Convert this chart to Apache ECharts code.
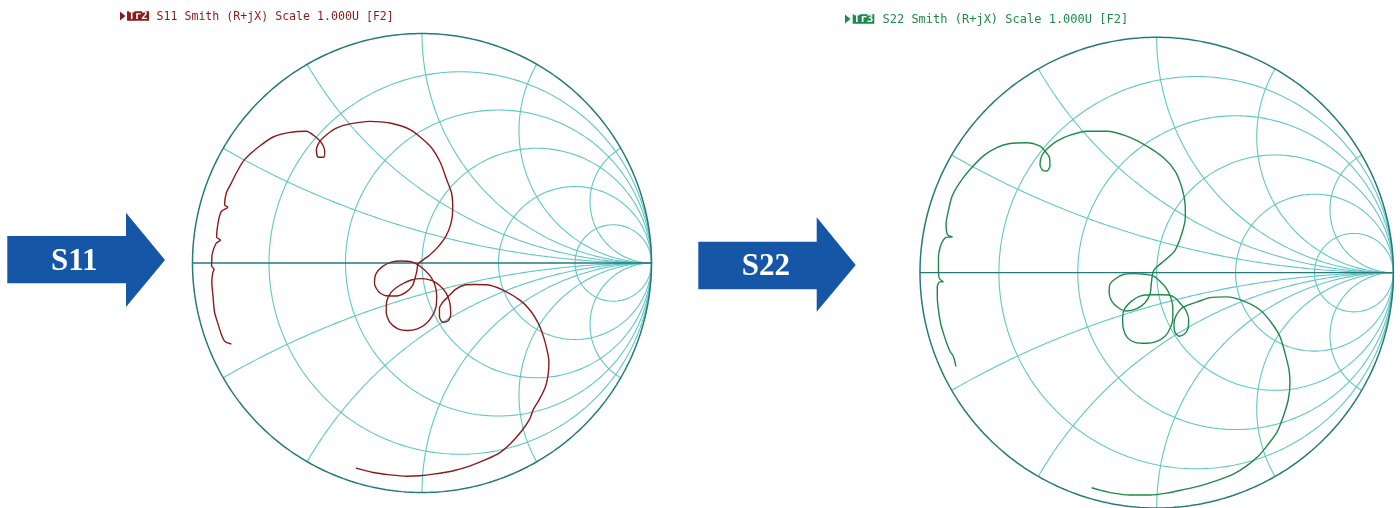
<!DOCTYPE html>
<html><head><meta charset="utf-8">
<script src="https://cdn.jsdelivr.net/npm/echarts@6/dist/echarts.min.js"></script>
<style>html,body{margin:0;padding:0;background:#fff}#c{width:1400px;height:508px}</style>
</head><body><div id="c"></div>
<script>
// Smith chart grid values
const resistanceValues = [0.2, 0.5, 1, 2, 5];
const reactanceValues = [0.268, 0.577, 1, 1.732, 3.732];

// Titles
const s11Title = 'S11 Smith (R+jX) Scale 1.000U [F2]';
const s22Title = 'S22 Smith (R+jX) Scale 1.000U [F2]';
const s11Tag = 'Tr2';
const s22Tag = 'Tr3';
const arrowLabels = ['S11', 'S22'];

// Reflection coefficient traces [real, imag]
const s11Points = [
[-0.831,-0.353],[-0.850,-0.347],[-0.862,-0.338],[-0.875,-0.309],[-0.889,-0.265],[-0.904,-0.214],
[-0.911,-0.141],[-0.916,-0.083],[-0.911,-0.040],[-0.906,-0.028],[-0.917,-0.012],[-0.916,0.010],
[-0.914,0.040],[-0.897,0.086],[-0.878,0.100],[-0.895,0.112],[-0.889,0.173],[-0.875,0.224],
[-0.846,0.243],[-0.860,0.253],[-0.853,0.304],[-0.831,0.348],[-0.809,0.392],[-0.780,0.442],
[-0.744,0.479],[-0.700,0.515],[-0.649,0.549],[-0.576,0.569],[-0.504,0.574],[-0.467,0.552],
[-0.438,0.523],[-0.424,0.486],[-0.428,0.461],[-0.453,0.461],[-0.460,0.493],[-0.445,0.530],
[-0.416,0.559],[-0.373,0.588],[-0.314,0.606],[-0.227,0.617],[-0.140,0.610],[-0.052,0.581],
[0.035,0.510],[0.079,0.440],[0.108,0.362],[0.129,0.304],[0.134,0.240],[0.127,0.175],
[0.103,0.115],[0.066,0.066],[0.030,0.032],[0.008,0.016],[-0.017,-0.004],
[-0.023,-0.038],[-0.032,-0.071],[-0.042,-0.100],[-0.071,-0.128],[-0.112,-0.144],[-0.156,-0.143],
[-0.189,-0.125],[-0.207,-0.089],[-0.201,-0.048],[-0.173,-0.016],[-0.134,0.004],[-0.090,0.009],
[-0.047,0.006],[-0.015,-0.009],[0.009,-0.028],[0.036,-0.057],[0.055,-0.092],[0.064,-0.140],
[0.061,-0.191],[0.045,-0.230],[0.016,-0.266],[-0.020,-0.287],[-0.064,-0.294],[-0.105,-0.287],
[-0.140,-0.259],[-0.156,-0.215],[-0.153,-0.164],[-0.134,-0.127],[-0.098,-0.098],[-0.047,-0.074],
[0.000,-0.068],[0.044,-0.077],[0.077,-0.098],[0.106,-0.132],[0.121,-0.173],[0.125,-0.223],
[0.114,-0.252],[0.090,-0.258],[0.076,-0.234],[0.076,-0.198],[0.092,-0.169],[0.114,-0.147],
[0.146,-0.115],[0.186,-0.096],[0.230,-0.094],[0.282,-0.095],[0.355,-0.119],[0.428,-0.163],
[0.472,-0.207],[0.508,-0.265],[0.530,-0.323],[0.547,-0.389],[0.553,-0.432],[0.549,-0.491],
[0.537,-0.541],[0.512,-0.593],[0.486,-0.636],[0.469,-0.680],[0.435,-0.731],[0.384,-0.789],
[0.341,-0.825],[0.282,-0.855],[0.210,-0.884],[0.137,-0.905],[0.049,-0.920],[-0.009,-0.927],
[-0.067,-0.929],[-0.140,-0.923],[-0.213,-0.913],[-0.288,-0.894]
];

const s22Points = [
[-0.848,-0.398],[-0.859,-0.356],[-0.873,-0.335],[-0.887,-0.300],[-0.901,-0.258],[-0.913,-0.215],
[-0.922,-0.159],[-0.927,-0.103],[-0.927,-0.061],[-0.918,-0.039],[-0.901,-0.039],[-0.918,-0.025],
[-0.922,0.003],[-0.922,0.066],[-0.915,0.108],[-0.901,0.139],[-0.887,0.151],[-0.862,0.151],
[-0.884,0.162],[-0.890,0.207],[-0.880,0.263],[-0.866,0.320],[-0.845,0.362],[-0.817,0.404],
[-0.782,0.446],[-0.732,0.496],[-0.676,0.531],[-0.620,0.549],[-0.549,0.552],[-0.493,0.538],
[-0.472,0.517],[-0.453,0.489],[-0.451,0.453],[-0.465,0.432],[-0.482,0.435],[-0.493,0.460],
[-0.486,0.496],[-0.465,0.524],[-0.422,0.559],[-0.366,0.584],[-0.296,0.601],[-0.211,0.601],
[-0.127,0.580],[-0.042,0.538],[0.028,0.489],[0.077,0.432],[0.106,0.362],[0.120,0.292],
[0.121,0.235],[0.106,0.165],[0.077,0.094],[0.042,0.059],[0.000,0.024],[-0.012,0.010],
[-0.018,-0.008],[-0.023,-0.048],[-0.028,-0.090],[-0.049,-0.128],[-0.084,-0.153],[-0.127,-0.163],
[-0.162,-0.149],[-0.190,-0.121],[-0.201,-0.083],[-0.197,-0.048],[-0.176,-0.027],[-0.141,-0.008],
[-0.099,-0.004],[-0.049,-0.007],[-0.017,-0.013],[0.014,-0.037],[0.042,-0.069],[0.059,-0.104],
[0.068,-0.147],[0.068,-0.196],[0.056,-0.238],[0.035,-0.270],[0.000,-0.292],[-0.042,-0.300],
[-0.092,-0.296],[-0.124,-0.276],[-0.141,-0.238],[-0.144,-0.189],[-0.134,-0.151],[-0.106,-0.121],
[-0.071,-0.100],[-0.028,-0.094],[0.014,-0.094],[0.056,-0.096],[0.082,-0.111],[0.103,-0.135],
[0.124,-0.161],[0.135,-0.200],[0.132,-0.238],[0.115,-0.263],[0.094,-0.270],[0.077,-0.252],
[0.073,-0.217],[0.082,-0.182],[0.103,-0.153],[0.134,-0.137],[0.169,-0.125],[0.225,-0.106],
[0.296,-0.103],[0.366,-0.120],[0.437,-0.159],[0.486,-0.215],[0.521,-0.272],[0.542,-0.342],
[0.559,-0.413],[0.563,-0.469],[0.556,-0.539],[0.535,-0.610],[0.507,-0.680],[0.465,-0.737],
[0.430,-0.779],[0.380,-0.821],[0.324,-0.856],[0.253,-0.884],[0.183,-0.906],[0.113,-0.922],
[0.042,-0.937],[-0.028,-0.945],[-0.113,-0.945],[-0.183,-0.937],[-0.240,-0.924],[-0.275,-0.914]
];

const GRID_COLOR = '#62C6C6';
const EDGE_COLOR = '#267A7A';
const S11_COLOR = '#8B1A1A';
const S22_COLOR = '#1E8A4A';

function gammaOf(r, x) {
  const d = (r + 1) * (r + 1) + x * x;
  return [(r * r + x * x - 1) / d, (2 * x) / d];
}
function resistanceCircle(r) {
  const c = r / (1 + r), rad = 1 / (1 + r), pts = [];
  for (let i = 0; i <= 360; i++) {
    const a = Math.PI * 2 * i / 360;
    pts.push([c + rad * Math.cos(a), rad * Math.sin(a)]);
  }
  return pts;
}
function reactanceArc(x) {
  const pts = [];
  for (let i = 0; i < 300; i++) {
    const t = (Math.PI / 2) * i / 300;
    pts.push(gammaOf(Math.tan(t), x));
  }
  pts.push([1, 0]);
  return pts;
}

function gridSeries(idx) {
  const base = { type: 'line', xAxisIndex: idx, yAxisIndex: idx, showSymbol: false, symbol: 'none',
    silent: true, animation: false, clip: false, z: 1 };
  const out = [];
  resistanceValues.forEach(r => out.push(Object.assign({}, base, {
    data: resistanceCircle(r), lineStyle: { color: GRID_COLOR, width: 1.1 } })));
  reactanceValues.forEach(x => {
    out.push(Object.assign({}, base, { data: reactanceArc(x), lineStyle: { color: GRID_COLOR, width: 1.1 } }));
    out.push(Object.assign({}, base, { data: reactanceArc(-x), lineStyle: { color: GRID_COLOR, width: 1.1 } }));
  });
  out.push(Object.assign({}, base, { data: resistanceCircle(0), z: 2, lineStyle: { color: EDGE_COLOR, width: 1.5 } }));
  out.push(Object.assign({}, base, { data: [[-1, 0], [1, 0]], z: 2, lineStyle: { color: EDGE_COLOR, width: 1.3 } }));
  return out;
}
function traceSeries(idx, pts, color) {
  return { type: 'line', xAxisIndex: idx, yAxisIndex: idx, data: pts, showSymbol: false, symbol: 'none',
    smooth: 0.25, animation: false, clip: false, z: 5, lineStyle: { color: color, width: 1.4 } };
}

const axisBase = { type: 'value', min: -1, max: 1, show: false };
const chart = echarts.init(document.getElementById('c'), null, { renderer: 'canvas' });

function arrow(x0, x1, yTop, yBot, headTop, headBot, tipX, tipY, label, tx, ty) {
  return [
    { type: 'polygon', shape: { points: [[x0, yTop], [x1, yTop], [x1, headTop], [tipX, tipY], [x1, headBot], [x1, yBot], [x0, yBot]] },
      style: { fill: '#1556A6' }, z: 10 },
    { type: 'text', x: tx, y: ty, style: { text: label, fill: '#ffffff', fontSize: 31, fontWeight: 'bold',
      fontFamily: 'Liberation Serif, Times New Roman, serif', align: 'center', verticalAlign: 'middle' }, z: 11 }
  ];
}
function header(triX, cy, boxX, boxW, boxH, fs, tag, txt, txtX, color) {
  return [
    { type: 'polygon', shape: { points: [[triX, cy - 4.5], [triX + 5.5, cy], [triX, cy + 4.5]] }, style: { fill: color } },
    { type: 'rect', shape: { x: boxX, y: cy - boxH / 2, width: boxW, height: boxH }, style: { fill: color } },
    { type: 'text', x: boxX + boxW / 2, y: cy + 0.5, style: { text: tag, fill: '#fff', fontSize: fs - 1, fontWeight: 'bold',
      fontFamily: 'DejaVu Sans Mono, monospace', align: 'center', verticalAlign: 'middle' } },
    { type: 'text', x: txtX, y: cy + 0.5, style: { text: txt, fill: color, fontSize: fs,
      fontFamily: 'DejaVu Sans Mono, monospace', align: 'left', verticalAlign: 'middle' } }
  ];
}

const option = {
  backgroundColor: '#ffffff',
  animation: false,
  grid: [
    { left: 192.5, top: 33.5, width: 459, height: 459 },
    { left: 920, top: 37.3, width: 473.4, height: 473.4 }
  ],
  xAxis: [Object.assign({ gridIndex: 0 }, axisBase), Object.assign({ gridIndex: 1 }, axisBase)],
  yAxis: [Object.assign({ gridIndex: 0 }, axisBase), Object.assign({ gridIndex: 1 }, axisBase)],
  series: [].concat(gridSeries(0), gridSeries(1),
    [traceSeries(0, s11Points, S11_COLOR), traceSeries(1, s22Points, S22_COLOR)]),
  graphic: [].concat(
    arrow(7.3, 126, 236, 283.3, 212.7, 307, 165, 260, arrowLabels[0], 74.2, 261.5),
    arrow(698.3, 816.7, 241.7, 289.3, 217.3, 311.7, 855.7, 265, arrowLabels[1], 765.8, 266.7),
    header(120, 16, 127, 22, 9.5, 11.6, s11Tag, s11Title, 156.5, '#8B1A1A'),
    header(845, 19, 852.7, 21.6, 9.5, 12, s22Tag, s22Title, 882.5, '#1E8A4A')
  )
};
chart.setOption(option);
</script>
</body></html>
